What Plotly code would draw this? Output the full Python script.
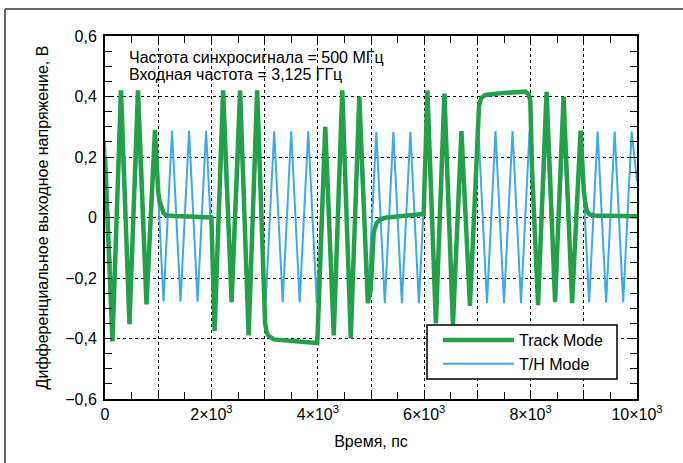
import plotly.graph_objects as go

# ---- data ----
blue_t = [0, 140, 300, 460, 620, 780, 940, 1100, 1260, 1420, 1580, 1740, 1900,
          2060, 2220, 2380, 2540, 2700, 2860, 3020, 3180, 3340, 3500, 3660, 3820,
          3980, 4140, 4300, 4460, 4620, 4780, 4940, 5100, 5260, 5420, 5580, 5740,
          5900, 6060, 6220, 6380, 6540, 6700, 6860, 7020, 7180, 7340, 7500, 7660,
          7820, 7980, 8140, 8300, 8460, 8620, 8780, 8940, 9100, 9260, 9420, 9580,
          9740, 9900, 10000]
blue_v = [0.25, -0.28, 0.285, -0.28, 0.285, -0.28, 0.285, -0.278, 0.287, -0.278, 0.287,
          -0.278, 0.287, -0.28, 0.285, -0.28, 0.285, -0.28, 0.285, -0.28, 0.285, -0.28,
          0.285, -0.28, 0.285, -0.283, 0.283, -0.283, 0.283, -0.283, 0.283, -0.283,
          0.283, -0.283, 0.283, -0.283, 0.283, -0.283, 0.286, -0.283, 0.286, -0.283,
          0.286, -0.283, 0.286, -0.283, 0.286, -0.283, 0.286, -0.283, 0.286, -0.281,
          0.284, -0.281, 0.284, -0.281, 0.284, -0.281, 0.284, -0.281, 0.284, -0.281,
          0.284, 0.12]

green_t = [0, 140, 300, 460, 620, 780, 940, 975, 1000, 1025, 1060, 1100, 1150, 1300, 2000,
           2060, 2220, 2380, 2540, 2700, 2860, 2980, 3010, 3040, 3070, 3170, 3500, 3990,
           4140, 4300, 4460, 4620, 4780, 4940, 4995, 5020, 5050, 5100, 5170, 5300, 5990,
           6060, 6220, 6380, 6540, 6700, 6860, 6975, 7000, 7030, 7070, 7150, 7500, 7900,
           7960, 7995, 8025, 8140, 8300, 8460, 8620, 8780, 8940, 8975, 9000, 9030, 9060,
           9110, 9200, 10000]
green_v = [0.20, -0.41, 0.42, -0.353, 0.42, -0.287, 0.29, 0.12, 0.085, 0.055, 0.03, 0.015,
           0.007, 0.005, 0.0,
           -0.375, 0.42, -0.28, 0.42, -0.39, 0.42, -0.26, -0.35, -0.38, -0.39, -0.403,
           -0.408, -0.415,
           0.30, -0.39, 0.42, -0.40, 0.40, -0.283, -0.24, -0.11, -0.05, -0.02, -0.006,
           0.0, 0.012,
           0.42, -0.35, 0.41, -0.355, 0.286, -0.292, 0.15, 0.30, 0.37, 0.395, 0.405,
           0.412, 0.416, 0.408, 0.385, 0.17,
           -0.29, 0.415, -0.278, 0.40, -0.283, 0.287, 0.15, 0.09, 0.045, 0.02, 0.01,
           0.007, 0.004]

x_tickvals = [0, 1000, 2000, 3000, 4000, 5000, 6000, 7000, 8000, 9000, 10000]
x_ticktext = ["0", "", "2×10<sup>3</sup>", "", "4×10<sup>3</sup>", "", "6×10<sup>3</sup>", "",
              "8×10<sup>3</sup>", "", "10×10<sup>3</sup>"]
y_tickvals = [-0.6, -0.4, -0.2, 0, 0.2, 0.4, 0.6]
y_ticktext = ["−0,6", "−0,4", "−0,2", "0", "0,2", "0,4", "0,6"]

series_names = ["Track Mode", "T/H Mode"]
note_lines = ["Частота синхросигнала = 500 МГц", "Входная частота = 3,125 ГГц"]
x_title = "Время, пс"
y_title = "Дифференциальное выходное напряжение, В"

GREEN = "#23a04a"
BLUE = "#3aaae8"
FONT = "Liberation Sans, Arial, sans-serif"

fig = go.Figure()
fig.add_trace(go.Scatter(x=blue_t, y=blue_v, mode="lines", name=series_names[1],
                         line=dict(color=BLUE, width=2), legendrank=2))
fig.add_trace(go.Scatter(x=green_t, y=green_v, mode="lines", name=series_names[0],
                         line=dict(color=GREEN, width=4.5), legendrank=1))

axis_common = dict(showline=True, linecolor="black", linewidth=2, mirror="ticks",
                   ticks="inside", ticklen=7, tickcolor="black", tickwidth=1,
                   showgrid=True, gridcolor="black", gridwidth=1, griddash="dot",
                   zeroline=False, tickfont=dict(family=FONT, size=16, color="black"))

fig.update_xaxes(range=[0, 10000], tickmode="array", tickvals=x_tickvals, ticktext=x_ticktext,
                 minor=dict(dtick=500, ticks="inside", ticklen=7, tickcolor="black", showgrid=False),
                 title=dict(text=x_title, font=dict(family=FONT, size=16, color="black"), standoff=14),
                 **axis_common)
fig.update_yaxes(range=[-0.6, 0.6], tickmode="array", tickvals=y_tickvals, ticktext=y_ticktext,
                 minor=dict(dtick=0.05, tick0=0, ticks="inside", ticklen=7, tickcolor="black", showgrid=False),
                 ticklabelstandoff=3,
                 title=dict(text=y_title, font=dict(family=FONT, size=16, color="black"), standoff=13),
                 **axis_common)

fig.add_annotation(text=note_lines[0], xref="paper", yref="paper", x=0.041, y=0.942,
                   xanchor="left", yanchor="middle", showarrow=False,
                   font=dict(family=FONT, size=16, color="black"))
fig.add_annotation(text=note_lines[1], xref="paper", yref="paper", x=0.041, y=0.893,
                   xanchor="left", yanchor="middle", showarrow=False,
                   font=dict(family=FONT, size=16, color="black"))

# outer frame of the picture (top and left edges)
fig.add_shape(type="line", xref="paper", yref="paper", x0=-0.188, x1=1.2, y0=1.0744, y1=1.0744,
              line=dict(color="#333333", width=1.5))
fig.add_shape(type="line", xref="paper", yref="paper", x0=-0.188, x1=-0.188, y0=1.0744, y1=-0.3,
              line=dict(color="#333333", width=1.5))
# legend box (opaque, above the traces)
fig.add_shape(type="rect", xref="paper", yref="paper", x0=0.6053, x1=0.9624, y0=0.0551, y1=0.2039,
              fillcolor="white", line=dict(color="black", width=1.5), layer="above")

fig.update_layout(
    width=683, height=463,
    margin=dict(l=105, r=46, t=36, b=64),
    paper_bgcolor="white", plot_bgcolor="white",
    showlegend=True,
    legend=dict(x=0.626, y=0.2094, xanchor="left", yanchor="top",
                bgcolor="rgba(0,0,0,0)", borderwidth=0,
                font=dict(family=FONT, size=16, color="black"),
                itemwidth=71, tracegroupgap=0),
)

fig.write_html("out.html", post_script="document.body.style.margin='0';",
               config={"displayModeBar": False})
